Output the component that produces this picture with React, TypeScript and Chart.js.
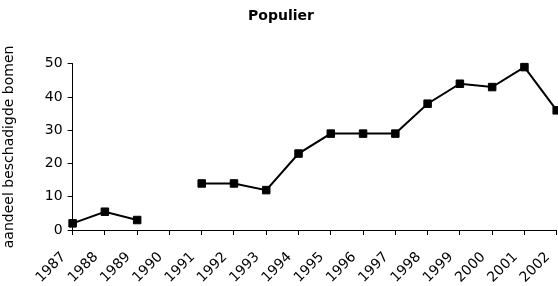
import React, { useEffect, useRef } from "react";
import { Chart, registerables } from "chart.js";

Chart.register(...registerables);

const years = ["1987","1988","1989","1990","1991","1992","1993","1994","1995","1996","1997","1998","1999","2000","2001","2002"];
const values: (number | null)[] = [2, 5.5, 3, null, 14, 14, 12, 23, 29, 29, 29, 38, 44, 43, 49, 36];
const titleText = "Populier";
const yTitle = "aandeel beschadigde bomen";

export default function App() {
  const ref = useRef<HTMLCanvasElement>(null);
  useEffect(() => {
    if (!ref.current) return;
    const font = { family: "'DejaVu Sans', Verdana, sans-serif", size: 14 };
    const chart = new Chart(ref.current, {
      type: "line",
      data: {
        labels: years,
        datasets: [{
          data: values,
          borderColor: "#000",
          backgroundColor: "#000",
          borderWidth: 2,
          pointStyle: "rect",
          pointRadius: 5.3,
          pointHoverRadius: 5.3,
          pointBorderWidth: 1,
          spanGaps: false,
          tension: 0,
          clip: false,
        }],
      },
      options: {
        responsive: false,
        animation: false,
        maintainAspectRatio: false,
        layout: { padding: { left: 0, right: 1, top: 0, bottom: 0 } },
        plugins: {
          legend: { display: false },
          tooltip: { enabled: false },
          title: {
            display: true,
            text: titleText,
            color: "#000",
            font: { ...font, weight: "bold" },
            padding: { top: 8, bottom: 39 },
          },
        },
        scales: {
          x: {
            offset: false,
            border: { display: true, color: "#000", width: 1 },
            grid: { display: true, drawOnChartArea: false, drawTicks: true, tickLength: 5, color: "#000" },
            ticks: { color: "#000", font, maxRotation: 45, minRotation: 45, autoSkip: false, padding: 14, labelOffset: -9 },
            afterFit: (scale: any) => {
              scale.height = 56;
              scale.paddingRight = 0;
              scale.paddingLeft = 0;
            },
          },
          y: {
            min: 0,
            max: 50,
            border: { display: true, color: "#000", width: 1 },
            grid: { display: true, drawOnChartArea: false, drawTicks: true, tickLength: 5, color: "#000" },
            ticks: { color: "#000", font, stepSize: 10, padding: 5 },
            title: { display: true, text: yTitle, color: "#000", font, padding: { top: 1, bottom: 22 } },
          },
        },
      },
    });
    return () => chart.destroy();
  }, []);
  return (
    <div style={{ position: "fixed", left: 0, top: 0, width: 558, height: 286, background: "#fff", overflow: "hidden" }}>
      <canvas ref={ref} width={563} height={286} style={{ display: "block" }} />
    </div>
  );
}
